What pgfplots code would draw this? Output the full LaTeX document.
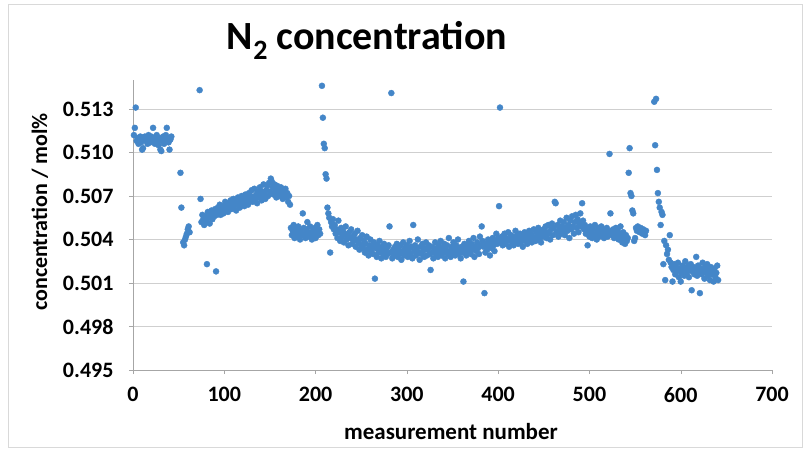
\documentclass[border=0pt]{standalone}
\usepackage{fontspec}
\setmainfont{Carlito}
\usepackage{pgfplots}
\pgfplotsset{compat=1.18}
\definecolor{dotblue}{HTML}{4486C8}
\definecolor{gridgray}{HTML}{CFCFCF}
\definecolor{axisgray}{HTML}{A6A6A6}
\begin{document}
\begin{tikzpicture}
\begin{axis}[
  scale only axis, width=639pt, height=290pt,
  xmin=0, xmax=700, ymin=0.495, ymax=0.515,
  axis x line*=bottom, axis y line*=left,
  axis line style={axisgray, line width=0.8pt},
  xtick={0,100,...,700},
  ytick={0.495,0.498,0.501,0.504,0.507,0.510,0.513},
  yticklabels={0.495,0.498,0.501,0.504,0.507,0.510,0.513},
  ymajorgrids, major grid style={gridgray, line width=0.9pt},
  tick align=outside, major tick length=4pt, tick style={axisgray},
  /pgf/number format/assume math mode=true,
  ticklabel style={font=\bfseries\fontsize{22}{26}\selectfont},
  xticklabel style={yshift=-10pt},
  yticklabel style={xshift=-12pt},
  scaled y ticks=false,
  clip=false,
]
\addplot[only marks, mark=*, mark size=3pt, color=dotblue] coordinates {
(1,.5112)(2,.5117)(3,.5131)(4,.5108)(5,.5110)(6,.5106)(7,.5109)(8,.5111)(9,.5107)(10,.5102)
(11,.5103)(12,.5109)(13,.5111)(14,.5108)(15,.5110)(16,.5106)(17,.5112)(18,.5109)(19,.5107)(20,.5111)
(21,.5108)(22,.5117)(23,.5110)(24,.5106)(25,.5109)(26,.5112)(27,.5108)(28,.5105)(29,.5110)(30,.5102)
(31,.5101)(32,.5108)(33,.5111)(34,.5106)(35,.5109)(36,.5112)(37,.5117)(38,.5110)(39,.5107)(40,.5102)
(41,.5109)(42,.5111)
(52,.5086)(53,.5062)(55,.5038)(56,.5036)(57,.5040)(58,.5042)(59,.5044)(60,.5047)(61,.5049)(62,.5045)
(73,.5143)(74,.5068)
(75,.5052)(76,.5057)(77,.5054)(78,.5050)(79,.5056)(80,.5053)(81,.5023)(82,.5059)(83,.5055)(84,.5051)
(85,.5057)(86,.5060)(87,.5054)(88,.5058)(89,.5056)(90,.5061)(91,.5018)(92,.5057)(93,.5062)(94,.5059)
(95,.5064)(96,.5057)(97,.5061)(98,.5063)(99,.5058)(100,.5062)(101,.5066)(102,.5060)(103,.5063)(104,.5059)
(105,.5065)(106,.5062)(107,.5067)(108,.5061)(109,.5064)(110,.5068)(111,.5063)(112,.5066)(113,.5060)(114,.5065)
(115,.5069)(116,.5064)(117,.5062)(118,.5067)(119,.5070)(120,.5065)(121,.5068)(122,.5063)(123,.5071)(124,.5066)
(125,.5069)(126,.5064)(127,.5072)(128,.5067)(129,.5070)(130,.5074)(131,.5066)(132,.5069)(133,.5075)(134,.5068)
(135,.5071)(136,.5065)(137,.5073)(138,.5069)(139,.5076)(140,.5070)(141,.5067)(142,.5073)(143,.5078)(144,.5071)
(145,.5068)(146,.5074)(147,.5077)(148,.5070)(149,.5079)(150,.5073)(151,.5082)(152,.5080)(153,.5076)(154,.5071)
(155,.5078)(156,.5074)(157,.5069)(158,.5077)(159,.5072)(160,.5075)(161,.5070)(162,.5076)(163,.5073)(164,.5068)
(165,.5074)(166,.5071)(167,.5075)(168,.5069)(169,.5072)(170,.5066)(171,.5070)(172,.5064)
(173,.5048)(174,.5043)(175,.5046)(176,.5050)(177,.5041)(178,.5044)(179,.5047)(180,.5042)(181,.5049)(182,.5045)
(183,.5040)(184,.5046)(185,.5043)(186,.5058)(187,.5048)(188,.5044)(189,.5041)(190,.5047)(191,.5052)(192,.5045)
(193,.5042)(194,.5049)(195,.5044)(196,.5040)(197,.5046)(198,.5043)(199,.5048)(200,.5041)(201,.5045)(202,.5050)
(203,.5043)(204,.5047)(205,.5044)
(207,.5146)(208,.5124)(209,.5106)(210,.5103)(211,.5085)(212,.5082)(213,.5062)(214,.5058)(215,.5055)(216,.5031)
(217,.5052)(218,.5049)(219,.5054)(220,.5047)
(221,.5050)(222,.5044)(223,.5047)(224,.5041)(225,.5053)(226,.5045)(227,.5039)(228,.5048)(229,.5042)(230,.5046)
(231,.5038)(232,.5044)(233,.5049)(234,.5040)(235,.5043)(236,.5036)(237,.5045)(238,.5041)(239,.5047)(240,.5037)
(241,.5042)(242,.5039)(243,.5044)(244,.5035)(245,.5040)(246,.5046)(247,.5038)(248,.5033)(249,.5041)(250,.5036)
(251,.5043)(252,.5034)(253,.5039)(254,.5031)(255,.5037)(256,.5042)(257,.5033)(258,.5029)(259,.5036)(260,.5040)
(261,.5032)(262,.5035)(263,.5030)(264,.5038)(265,.5013)(266,.5034)(267,.5028)(268,.5036)(269,.5031)(270,.5039)
(271,.5033)(272,.5027)(273,.5035)(274,.5030)(275,.5037)(276,.5032)(277,.5028)(278,.5034)(279,.5030)(280,.5036)
(281,.5049)(282,.5031)(283,.5141)(284,.5027)(285,.5033)(286,.5029)(287,.5035)(288,.5031)(289,.5037)(290,.5028)
(291,.5033)(292,.5030)(293,.5036)(294,.5026)(295,.5032)(296,.5038)(297,.5029)(298,.5034)(299,.5031)(300,.5036)
(301,.5028)(302,.5033)(303,.5039)(304,.5030)(305,.5035)(306,.5027)(307,.5050)(308,.5032)(309,.5036)(310,.5029)
(311,.5034)(312,.5040)(313,.5031)(314,.5026)(315,.5035)(316,.5030)(317,.5037)(318,.5032)(319,.5028)(320,.5034)
(321,.5038)(322,.5029)(323,.5033)(324,.5036)(325,.5030)(326,.5019)(327,.5035)(328,.5031)(329,.5027)(330,.5034)
(331,.5038)(332,.5030)(333,.5033)(334,.5028)(335,.5036)(336,.5032)(337,.5039)(338,.5029)(339,.5034)(340,.5031)
(341,.5037)(342,.5027)(343,.5033)(344,.5036)(345,.5030)(346,.5041)(347,.5032)(348,.5028)(349,.5035)(350,.5031)
(351,.5038)(352,.5033)(353,.5029)(354,.5036)(355,.5032)(356,.5040)(357,.5030)(358,.5034)(359,.5027)(360,.5035)
(361,.5031)(362,.5011)(363,.5037)(364,.5033)(365,.5029)(366,.5036)(367,.5032)(368,.5039)(369,.5034)(370,.5030)
(371,.5037)(372,.5033)(373,.5041)(374,.5028)(375,.5035)(376,.5032)(377,.5038)(378,.5034)(379,.5030)(380,.5042)
(381,.5036)(382,.5049)(383,.5039)(384,.5035)(385,.5003)(386,.5031)(387,.5037)(388,.5033)(389,.5040)(390,.5035)
(391,.5029)(392,.5038)(393,.5034)(394,.5041)(395,.5036)(396,.5032)(397,.5039)(398,.5044)(399,.5037)(400,.5041)
(401,.5063)(402,.5131)
(403,.5038)(404,.5042)(405,.5036)(406,.5040)(407,.5044)(408,.5037)(409,.5041)(410,.5039)(411,.5045)(412,.5035)
(413,.5040)(414,.5043)(415,.5038)(416,.5042)(417,.5036)(418,.5041)(419,.5046)(420,.5039)(421,.5043)(422,.5037)
(423,.5041)(424,.5044)(425,.5038)(426,.5042)(427,.5035)(428,.5040)(429,.5045)(430,.5039)(431,.5043)(432,.5037)
(433,.5041)(434,.5046)(435,.5040)(436,.5044)(437,.5038)(438,.5042)(439,.5047)(440,.5041)(441,.5039)(442,.5045)
(443,.5042)(444,.5048)(445,.5040)(446,.5044)(447,.5038)(448,.5046)(449,.5042)(450,.5047)(451,.5043)(452,.5049)
(453,.5041)(454,.5045)(455,.5050)(456,.5044)(457,.5040)(458,.5047)(459,.5051)(460,.5043)(461,.5048)(462,.5066)
(463,.5065)(464,.5045)(465,.5050)(466,.5042)(467,.5047)(468,.5053)(469,.5044)(470,.5049)(471,.5046)(472,.5052)
(473,.5043)(474,.5048)(475,.5055)(476,.5046)(477,.5050)(478,.5041)(479,.5053)(480,.5047)(481,.5056)(482,.5049)
(483,.5044)(484,.5052)(485,.5057)(486,.5048)(487,.5054)(488,.5045)(489,.5051)(490,.5058)(491,.5049)(492,.5065)
(493,.5053)(494,.5047)(495,.5050)(496,.5044)(497,.5048)(498,.5036)(499,.5046)(500,.5042)(501,.5049)(502,.5045)
(503,.5041)(504,.5047)(505,.5043)(506,.5050)(507,.5044)(508,.5040)(509,.5046)(510,.5048)(511,.5042)(512,.5045)
(513,.5049)(514,.5043)(515,.5047)(516,.5041)(517,.5046)(518,.5044)(519,.5048)(520,.5042)(521,.5045)(522,.5099)
(523,.5058)(524,.5046)(525,.5043)(526,.5047)(527,.5041)(528,.5044)(529,.5048)(530,.5042)
(531,.5046)(532,.5040)(533,.5044)(534,.5049)(535,.5042)(536,.5038)(537,.5045)(538,.5041)(539,.5037)(540,.5043)
(541,.5039)(542,.5041)(543,.5086)(544,.5103)(545,.5072)(546,.5070)(547,.5060)(548,.5058)(549,.5039)(550,.5041)
(551,.5048)(552,.5046)(553,.5049)(554,.5047)(555,.5045)(556,.5048)(557,.5046)(558,.5044)(559,.5047)(560,.5045)
(561,.5043)(562,.5046)
(571,.5135)(572,.5105)(573,.5137)(574,.5088)(575,.5072)(576,.5066)(577,.5062)(578,.5050)(579,.5059)(580,.5057)
(581,.5023)(582,.5039)(583,.5012)(584,.5036)(585,.5030)(586,.5033)(587,.5026)(588,.5043)(589,.5024)(590,.5021)
(591,.5011)(592,.5019)(593,.5023)(594,.5016)(595,.5021)(596,.5018)(597,.5024)(598,.5014)(599,.5020)(600,.5011)
(601,.5017)(602,.5022)(603,.5019)(604,.5015)(605,.5025)(606,.5020)(607,.5017)(608,.5022)(609,.5014)(610,.5019)
(611,.5023)(612,.5005)(613,.5018)(614,.5021)(615,.5016)(616,.5020)(617,.5028)(618,.5015)(619,.5022)(620,.5018)
(621,.5003)(622,.5020)(623,.5016)(624,.5024)(625,.5019)(626,.5013)(627,.5021)(628,.5017)(629,.5023)(630,.5015)
(631,.5019)(632,.5012)(633,.5021)(634,.5016)(635,.5018)(636,.5011)(637,.5020)(638,.5014)(639,.5017)(640,.5022)
(641,.5012)
};
\end{axis}
\node[font=\bfseries\fontsize{40}{48}\selectfont] at ([shift={(234pt,330pt)}]current axis.south west)
  {N\raisebox{-10pt}{\fontsize{28}{28}\selectfont 2} concentration};
\node[font=\bfseries\fontsize{23}{27}\selectfont] at ([shift={(318pt,-62pt)}]current axis.south west)
  {measurement number};
\node[font=\bfseries\fontsize{22}{26}\selectfont, rotate=90] at ([shift={(-93pt,158pt)}]current axis.south west)
  {concentration / mol\%};
\draw[gray!30] ([shift={(-125pt,-77pt)}]current axis.south west) rectangle ++(794pt,443pt);
\pgfresetboundingbox
\path[use as bounding box] ([shift={(-133pt,-80pt)}]current axis.south west) rectangle ++(803pt,450pt);
\end{tikzpicture}
\end{document}
